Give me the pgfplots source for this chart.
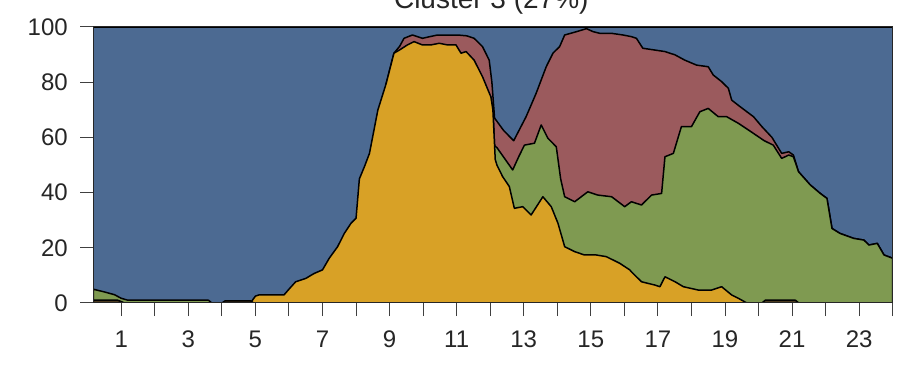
\documentclass[border=0pt]{standalone}
\usepackage{fontspec}
\setmainfont{Liberation Sans}
\usepackage{pgfplots}
\pgfplotsset{compat=1.18}
\definecolor{cblue}{HTML}{4C6A92}
\definecolor{cred}{HTML}{9B5A5D}
\definecolor{cgreen}{HTML}{7F9A51}
\definecolor{cyellow}{HTML}{D8A126}
\definecolor{cdark}{HTML}{4B3A1E}
\begin{document}
\begin{tikzpicture}
\useasboundingbox (-93.3pt,-66pt) rectangle (808.7pt,303pt);
\begin{axis}[
  at={(0pt,0pt)}, anchor=south west,
  scale only axis, width=799.4pt, height=276pt,
  xmin=0.1667, xmax=24, ymin=0, ymax=100,
  axis on top,
  axis line style={black!85, line width=1pt},
  xtick={1,...,24},
  xticklabels={1,,3,,5,,7,,9,,11,,13,,15,,17,,19,,21,,23,},
  ytick={0,20,40,60,80,100},
  xtick pos=bottom, ytick pos=left,
  tick align=outside,
  major tick length=13pt,
  tick style={black!75, line width=1pt},
  /pgf/number format/assume math mode=true,
  ticklabel style={font=\fontsize{24}{28}\selectfont, text=black!85},
  xticklabel style={yshift=-11pt},
  yticklabel style={xshift=-9pt},
  every axis plot/.append style={draw=black, line width=1.5pt, line join=round},
]
% blue (top layer, fills to 100)
\addplot[fill=cblue] coordinates {(0.1667,100) (24,100)} \closedcycle;
% red cumulative top
\addplot[fill=cred] coordinates {
(8.9,79.6) (9.13,90.5) (9.3,93.0) (9.43,95.9) (9.68,97.1) (9.98,95.9) (10.2,96.5) (10.43,97.1) (11.03,97.1) (11.3,96.8) (11.52,95.9) (11.77,92.9) (11.97,88.0) (12.05,80.0) (12.13,67.0) (12.4,62.5) (12.7,58.8) (13.07,67.5) (13.37,76.0) (13.67,85.6) (13.87,90.5) (14.07,92.9) (14.22,97.1) (14.57,98.3) (14.87,99.4) (15.07,98.3) (15.27,97.7) (15.62,97.7) (15.96,97.1) (16.21,96.5) (16.36,95.9) (16.55,92.3) (17.21,91.1) (17.51,89.9) (17.8,88.0) (18.15,86.2) (18.5,85.6) (18.65,82.6) (18.9,80.2) (19.1,77.8) (19.2,73.5) (19.4,71.6) (19.65,69.3) (19.85,67.5) (20.1,63.9) (20.4,60.0) (20.69,54.2) (20.9,54.8) (21.04,53.6)
(21.19,47.6) (21.54,42.8) (21.84,39.7) (22.04,37.9) (22.19,27.0) (22.43,25.2) (22.84,23.4) (23.14,22.8) (23.29,21.0) (23.54,21.6) (23.74,17.4) (24.0,16.2)
} \closedcycle;
% green cumulative top (left part)
\addplot[fill=cgreen] coordinates {
(0.1667,5.0) (0.5,4.0) (0.8,3.0) (1.0,1.7) (1.2,1.0) (3.6,1.0) (3.7,0) (4.0,0)
} \closedcycle;
% green cumulative top (right part)
\addplot[fill=cgreen] coordinates {
(12.02,74.7) (12.08,70.0) (12.13,57.0) (12.2,56.3) (12.45,52.0) (12.67,48.2) (12.85,53.0) (13.02,57.2) (13.32,57.9) (13.52,64.5) (13.72,59.7) (13.97,56.6) (14.1,45.0) (14.22,38.5) (14.52,36.7) (14.91,40.3) (15.21,39.1) (15.62,38.5) (16.01,34.9) (16.21,36.7) (16.51,35.5) (16.81,39.1) (17.11,39.7) (17.21,53.0) (17.46,54.2) (17.70,63.9) (18.0,63.9) (18.25,69.3) (18.5,70.5) (18.8,67.5) (19.05,67.5) (19.4,65.1) (19.77,62.1) (20.17,58.8) (20.44,57.2) (20.69,52.4) (20.9,53.6) (21.04,53.0) (21.19,47.6) (21.54,42.8) (21.84,39.7) (22.04,37.9) (22.19,27.0) (22.43,25.2) (22.84,23.4) (23.14,22.8) (23.29,21.0) (23.54,21.6) (23.74,17.4) (24.0,16.2)
} \closedcycle;
% yellow cumulative top
\addplot[fill=cyellow] coordinates {
(0.1667,0) (4.85,0) (5.0,2.5) (5.1,2.9) (5.85,2.9) (6.0,5.0) (6.2,7.7) (6.5,8.9) (6.75,10.7) (7.0,12.0) (7.2,16.2) (7.45,20.4) (7.65,25.2) (7.85,28.9) (8.0,30.7) (8.1,45.0) (8.25,49.4) (8.4,54.2) (8.65,69.9) (8.9,79.6) (9.13,90.5) (9.3,91.7) (9.53,93.5) (9.73,94.7) (9.98,93.5) (10.23,93.5) (10.48,94.1) (10.73,93.5) (10.98,93.5) (11.13,90.5) (11.28,91.1) (11.52,88.0) (11.77,82.0) (12.02,74.7) (12.08,70.0) (12.15,52.0) (12.2,50.0) (12.37,45.8) (12.57,42.2) (12.72,34.3) (12.97,34.9) (13.22,31.9) (13.57,38.5) (13.82,34.9) (14.02,28.9) (14.22,20.4) (14.52,18.6) (14.81,17.4) (15.16,17.4) (15.46,16.8) (15.86,14.4) (16.16,12.0) (16.21,11.3) (16.51,7.7) (16.91,6.5) (17.06,5.9) (17.21,9.5) (17.51,7.7) (17.76,5.9) (18.2,4.7) (18.6,4.7) (18.9,5.9) (19.2,2.9) (19.4,1.7) (19.65,0) (24,0)
} \closedcycle;
% small dark series
\addplot[fill=cdark] coordinates {
(0.1667,1.0) (0.9,1.0) (1.1,0) (4.0,0) (4.1,0.8) (4.85,0.8) (4.95,0) (20.1,0) (20.2,1.0) (21.1,1.0) (21.2,0) (24,0)
} \closedcycle;
\end{axis}
\node[anchor=base, font=\fontsize{28}{32}\selectfont, text=black!85] at (398pt,294pt) {Cluster 3 (27\%)};
\end{tikzpicture}
\end{document}
